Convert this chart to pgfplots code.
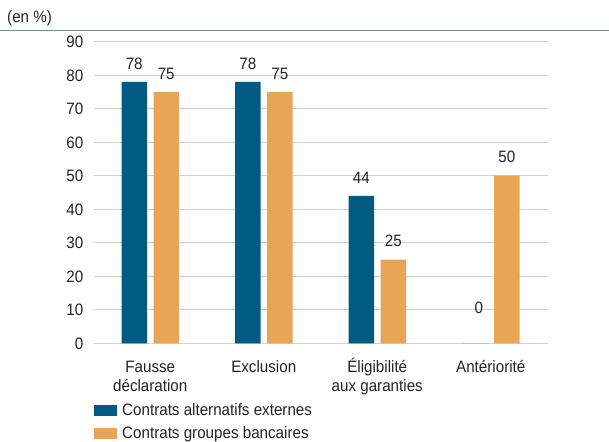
\documentclass[border=0pt]{standalone}
\usepackage{fontspec}
\setmainfont{Liberation Sans}[FakeStretch=0.92]
\usepackage{pgfplots}
\pgfplotsset{compat=1.18}
\usepackage{pgfplotstable}
\definecolor{cblue}{RGB}{0,90,130}
\definecolor{corange}{RGB}{232,165,85}
\definecolor{cgrid}{RGB}{208,208,208}
\definecolor{ctext}{RGB}{35,35,35}
\definecolor{crule}{RGB}{110,150,135}
\newcommand\fs{\fontsize{16.5}{18.5}\selectfont}

\pgfplotstableread{
x y off xo
0 78 0 0
1 78 0 0
2 44 0 0
3 0 16.8 4
}\alt
\pgfplotstableread{
x y
0 75
1 75
2 25
3 50
}\banc

\begin{document}
\begin{tikzpicture}
\useasboundingbox (-93.5pt,-97.7pt) rectangle (515.5pt,343.3pt);
\begin{axis}[
  scale only axis, width=454pt, height=301.6pt,
  xmin=-0.5, xmax=3.5, ymin=0, ymax=90,
  axis line style={draw=none},
  ytick={0,10,...,90},
  ymajorgrids, grid style={cgrid, line width=1.3pt},
  major tick length=0pt,
  xtick={0,1,2,3},
  xticklabels={{\rule{0pt}{16pt}Fausse\\déclaration},{\rule{0pt}{16pt}Exclusion},{\rule{0pt}{16pt}Éligibilité\\aux garanties},{\rule{0pt}{16pt}Antériorité}},
  xticklabel style={align=center, inner sep=0pt, anchor=north, yshift=-13pt, font=\fs, text=ctext},
  yticklabel style={inner sep=0pt, anchor=east, xshift=-10pt, font=\fs, text=ctext, text height=11.8pt, text depth=0pt},
  /pgf/number format/assume math mode=true,
  ybar=6.5pt, bar width=25.5pt,
  nodes near coords,
  nodes near coords style={font=\fs, text=ctext, inner sep=0pt, anchor=south, yshift=12.5pt},
  legend cell align=left,
  legend style={at={(0,0)}, anchor=north west, yshift=-59.7pt, draw=none, fill=none,
    inner sep=0pt, outer sep=0pt, row sep=7.7pt, column sep=5.7pt, font=\fs, text=ctext,
    nodes={inner sep=0pt, text height=12pt, text depth=3.5pt}},
]
\addplot[fill=cblue, draw=none,
  legend image code/.code={\fill[cblue] (0pt,-5.5pt) rectangle (23pt,5.5pt);},
  visualization depends on={\thisrow{off} \as \off},
  visualization depends on={\thisrow{xo} \as \xo},
  every node near coord/.append style={yshift=\off pt, xshift=\xo pt}]
  table[x=x, y=y] {\alt};
\addplot[fill=corange, draw=none,
  legend image code/.code={\fill[corange] (0pt,-5.5pt) rectangle (23pt,5.5pt);}]
  table[x=x, y=y] {\banc};
\legend{Contrats alternatifs externes, Contrats groupes bancaires}
\end{axis}
\draw[crule, line width=1pt] (-93.5pt,312.3pt) -- (515.5pt,312.3pt);
\node[anchor=west, inner sep=0pt, font=\fs, text=ctext] at (-86.5pt,324.8pt) {(en \%)};
\end{tikzpicture}
\end{document}
